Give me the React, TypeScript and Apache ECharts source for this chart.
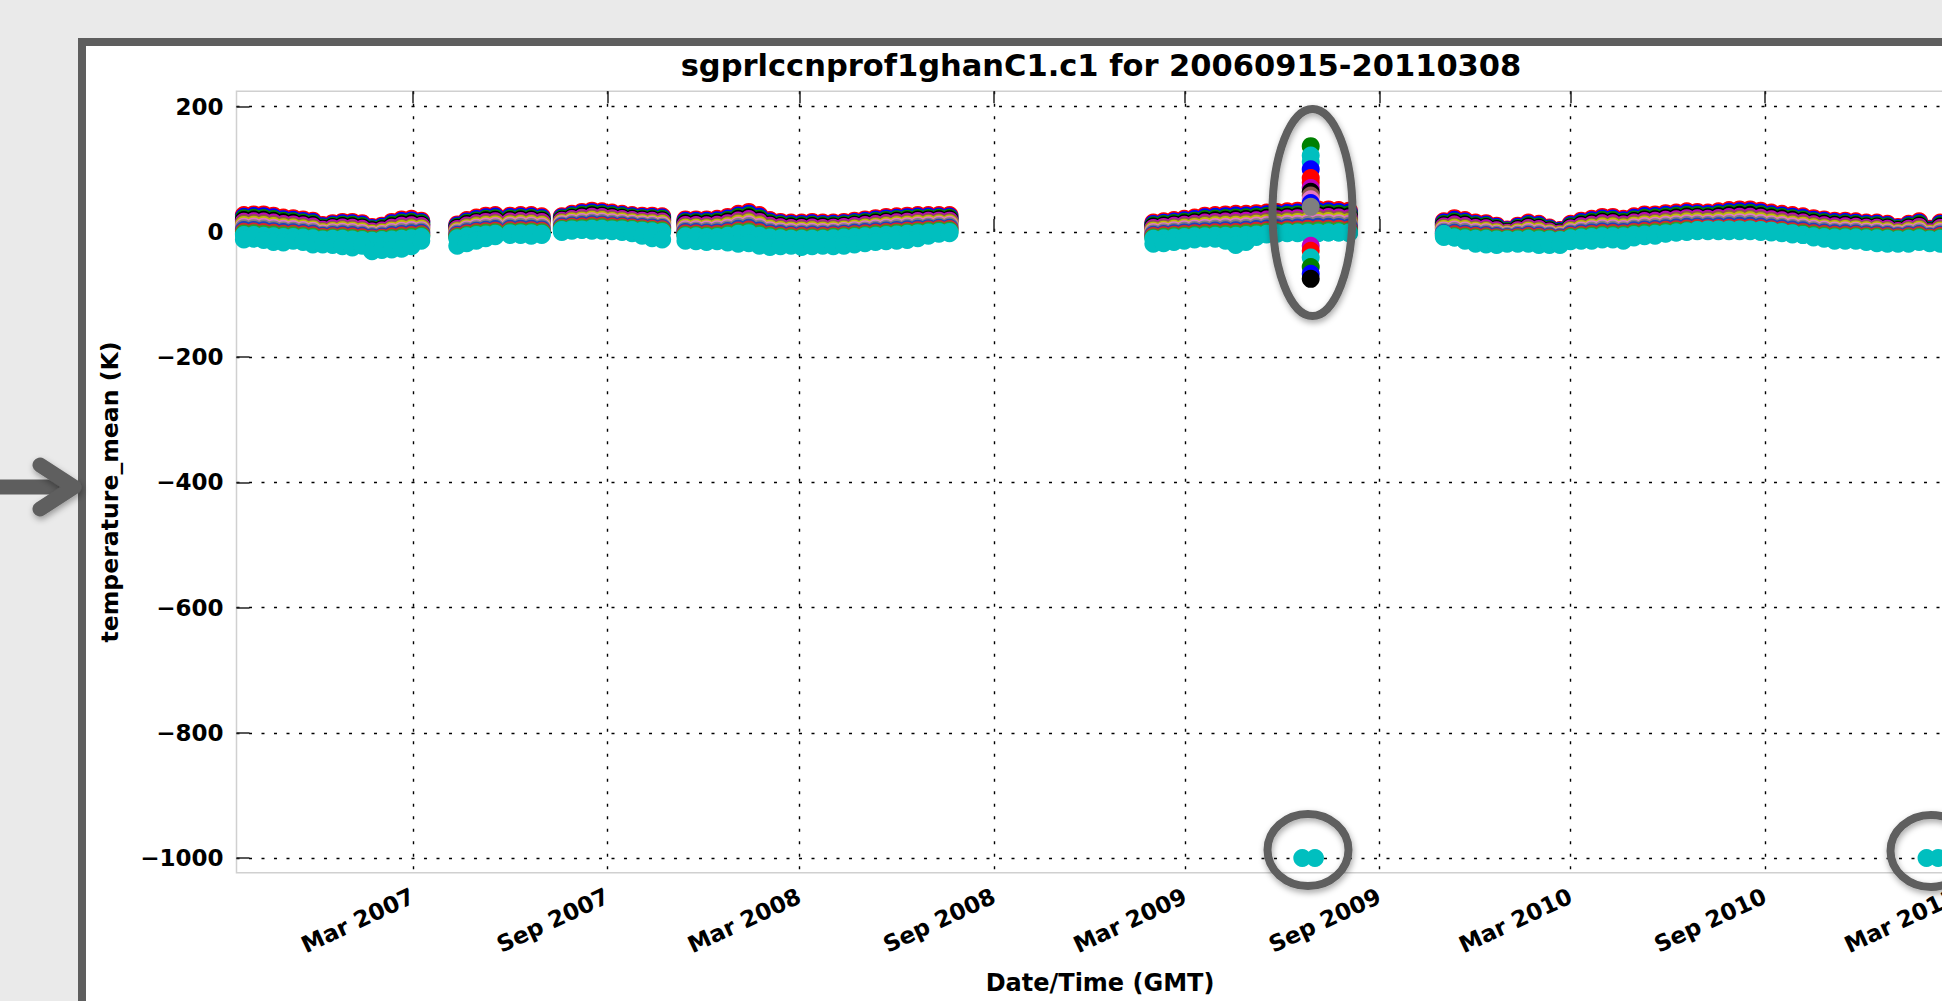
import React, { useEffect, useRef } from 'react';
import * as echarts from 'echarts';

const TITLE = 'sgprlccnprof1ghanC1.c1 for 20060915-20110308';
const X_NAME = 'Date/Time (GMT)';
const Y_NAME = 'temperature_mean (K)';
const X_MIN = '2006-09-15';
const X_MAX = '2011-03-08';
const Y_MIN = -1023.5;
const Y_MAX = 224.6;
const Y_TICKS = [-1000, -800, -600, -400, -200, 0, 200];
const X_TICKS = ['2007-03-01', '2007-09-01', '2008-03-01', '2008-09-01', '2009-03-01', '2009-09-01', '2010-03-01', '2010-09-01', '2011-03-01'];
const MONTHS = ['Jan', 'Feb', 'Mar', 'Apr', 'May', 'Jun', 'Jul', 'Aug', 'Sep', 'Oct', 'Nov', 'Dec'];

// data segments (regularly sampled), start date + step in days
const SEG_START = ['2006-09-22', '2007-04-12', '2007-06-01', '2007-07-20', '2007-11-14', '2009-01-30', '2009-11-01'];
const SEG_STEP = [9.33, 9, 10, 9.5, 10, 9.75, 10];

// highest level of the profile (top of the coloured band)
const BAND_TOP = [
  [27, 28, 28, 26, 23, 22, 20, 18, 11, 14, 16, 16, 14, 8, 10, 16, 20, 21, 18],
  [12, 19, 23, 26, 27],
  [26, 27, 27, 25],
  [25, 29, 32, 34, 33, 31, 29, 27, 26, 26, 25],
  [20, 20, 20, 21, 24, 29, 32, 27, 19, 16, 15, 15, 16, 15, 15, 16, 18, 20, 22, 24, 25, 26, 27, 27, 27, 27],
  [15, 17, 19, 21, 23, 26, 27, 28, 29, 29, 30, 31, 32, 33, 34, 35, 36, 36, 35, 34],
  [17, 22, 19, 15, 14, 10, 4, 10, 15, 13, 7, 3, 13, 18, 21, 24, 24, 21, 25, 28, 28, 30, 31, 33, 32, 31, 33, 35, 36, 36, 34, 31, 29, 27, 25, 22, 20, 18, 18, 17, 15, 15, 13, 8, 13, 17, 5, 15, 23, 23],
];
// cyan level: upper and lower values
const CYAN_HI = [
  [-5, -5, -6, -7, -8, -8, -9, -10, -12, -11, -11, -12, -13, -14, -13, -12, -11, -10, -8],
  [-10, -7, -5, -4, -3],
  [-2, -2, -2, -3],
  [3, 4, 4, 5, 5, 4, 4, 3, 2, 1, 0],
  [-7, -7, -8, -8, -6, -3, -2, -6, -9, -10, -11, -11, -11, -11, -10, -9, -8, -7, -6, -5, -4, -3, -2, -1, 0, 0],
  [-11, -10, -9, -8, -7, -7, -6, -6, -6, -5, -4, -3, -3, -2, -2, -1, -1, -1, -1, -2],
  [-8, -9, -10, -11, -11, -12, -12, -12, -11, -12, -12, -13, -10, -9, -8, -7, -7, -7, -5, -4, -3, -2, -1, 0, 1, 1, 1, 1, 1, 1, 0, -1, -2, -4, -5, -7, -8, -9, -9, -9, -10, -10, -11, -12, -11, -10, -12, -11, -10, -10],
];
const CYAN_LO = [
  [-12, -11, -13, -16, -17, -14, -16, -20, -20, -21, -23, -25, -22, -31, -29, -28, -27, -23, -14],
  [-22, -18, -14, -10, -7],
  [-5, -5, -6, -5],
  [0, 2, 3, 2, 2, 1, 0, -2, -6, -10, -12],
  [-14, -15, -16, -15, -17, -19, -18, -22, -24, -23, -22, -24, -23, -22, -23, -22, -20, -18, -16, -15, -14, -13, -10, -6, -3, -2],
  [-19, -18, -16, -14, -12, -11, -11, -14, -21, -16, -8, -4, -2, -1, -1, -2, -2, -1, -1, -1],
  [-3, -9, -14, -19, -20, -21, -19, -19, -19, -21, -21, -21, -15, -14, -14, -12, -12, -14, -9, -7, -6, -3, -1, 1, 3, 4, 4, 4, 4, 4, 3, 2, 0, -2, -5, -9, -11, -14, -14, -14, -16, -18, -19, -19, -19, -16, -18, -19, -16, -16],
];

const SPIKE_DATE = '2009-06-28';
const SPIKE_VALUES = [137, 122, 112, 100, 86, 79, 70, 64, 58, 52, 46, 40, -22, -30, -41, -56, -67, -75];
const FILL_DATES = ['2009-06-20', '2009-07-02', '2011-02-01', '2011-02-12', '2011-02-22'];
const FILL_VALUES = [-1000, -1000, -1000, -1000, -1000];

// styles
const FONT = 'DejaVu Sans';
const CYAN = '#00bfbf';
const STRIPE_COLORS = ['#ff0000', '#0000ff', '#008000', '#000000', '#bf00bf', '#8c564b', '#bfbf00', '#e377c2', '#7f7f7f', '#1f3fbf', '#d62728', '#2ca02c'];
const SPIKE_COLORS = ['#008000', CYAN, CYAN, '#0000ff', '#ff0000', '#ff0000', '#bf00bf', '#000000', '#8c564b', '#e377c2', '#0000ff', '#7f7f7f', '#bf00bf', '#ff0000', CYAN, '#008000', '#0000ff', '#000000'];
const FRAME = '#5e5e5e';
const MARK = 18;

const DAY = 86400000;
const ts = (s: string) => Date.parse(s + 'T00:00:00Z');
const sampleTime = (s: number, k: number) => ts(SEG_START[s]) + k * SEG_STEP[s] * DAY;

function buildOption() {
  const xTicks = X_TICKS.map(ts);
  const dot = { type: [3, 9.5] as any, color: '#000', width: 1.4 };
  const tickStyle = { color: '#222', width: 1.5 };
  const labelFont = { fontFamily: FONT, fontWeight: 'bold' as const, fontSize: 23, color: '#000' };

  const scatter = (name: string, data: any[], color: string) => ({
    type: 'scatter', name, data, symbol: 'circle', symbolSize: MARK, silent: true,
    itemStyle: { color, opacity: 1 },
  });

  const series: any[] = [];
  const N = STRIPE_COLORS.length;
  for (let j = N; j >= 1; j--) {
    const data: any[] = [];
    BAND_TOP.forEach((tops, s) => tops.forEach((top, k) => {
      const hi = CYAN_HI[s][k];
      data.push([sampleTime(s, k), hi + ((top - hi) * j) / N]);
    }));
    series.push(scatter('level' + j, data, STRIPE_COLORS[(N - j) % N]));
  }
  const hiData: any[] = [];
  const loData: any[] = [];
  CYAN_HI.forEach((arr, s) => arr.forEach((v, k) => hiData.push([sampleTime(s, k), v])));
  CYAN_LO.forEach((arr, s) => arr.forEach((v, k) => loData.push([sampleTime(s, k), v])));
  series.push(scatter('cyanHi', hiData, CYAN));
  series.push(scatter('cyanLo', loData, CYAN));
  series.push({
    ...scatter('spike', [], CYAN),
    data: SPIKE_VALUES.map((v, i) => ({ value: [ts(SPIKE_DATE), v], itemStyle: { color: SPIKE_COLORS[i], opacity: 1 } })),
  });
  series.push(scatter('fill', FILL_DATES.map((d, i) => [ts(d), FILL_VALUES[i]]), CYAN));

  const shadow = { shadowBlur: 6, shadowColor: 'rgba(0,0,0,0.35)', shadowOffsetX: 1, shadowOffsetY: 3 };
  const ellipse = (cx: number, cy: number, rx: number, ry: number) => ({
    type: 'ellipse', z: 100, silent: true,
    shape: { cx, cy, rx, ry },
    style: { fill: 'transparent', stroke: FRAME, lineWidth: 8, ...shadow },
  });

  return {
    animation: false,
    backgroundColor: '#eaeaea',
    title: {
      text: TITLE, left: 1101, top: 50, textAlign: 'center', padding: 0,
      textStyle: { fontFamily: FONT, fontWeight: 'bold', fontSize: 30.5, color: '#000' },
    },
    grid: {
      left: 236.5, right: 0.5, top: 91.3, bottom: 128.3,
      containLabel: false, outerBoundsMode: 'none',
      show: true, borderColor: '#d0d0d0', borderWidth: 1.5, backgroundColor: 'transparent',
    },
    xAxis: [
      {
        type: 'value', min: ts(X_MIN), max: ts(X_MAX), position: 'bottom',
        axisLine: { show: false },
        axisTick: { show: true, inside: true, length: 13, customValues: xTicks, lineStyle: tickStyle },
        axisLabel: {
          customValues: xTicks, rotate: 25, margin: 22, ...labelFont,
          formatter: (v: number) => { const d = new Date(v); return MONTHS[d.getUTCMonth()] + ' ' + d.getUTCFullYear(); },
        },
        splitLine: { show: true, lineStyle: dot },
        name: X_NAME, nameLocation: 'middle', nameGap: 98,
        nameTextStyle: { fontFamily: FONT, fontWeight: 'bold', fontSize: 24, color: '#000' },
      },
      {
        type: 'value', min: ts(X_MIN), max: ts(X_MAX), position: 'top',
        axisLine: { show: false },
        axisTick: { show: true, inside: true, length: 12, customValues: xTicks, lineStyle: tickStyle },
        axisLabel: { show: false },
        splitLine: { show: false },
      },
    ],
    yAxis: {
      type: 'value', min: Y_MIN, max: Y_MAX,
      axisLine: { show: false },
      axisTick: { show: true, inside: true, length: 13, customValues: Y_TICKS, lineStyle: tickStyle },
      axisLabel: {
        customValues: Y_TICKS, margin: 13, ...labelFont,
        formatter: (v: number) => (v < 0 ? '\u2212' + Math.abs(v) : String(v)),
      },
      splitLine: { show: true, lineStyle: dot },
      name: Y_NAME, nameLocation: 'middle', nameRotate: 90, nameGap: 115,
      nameTextStyle: { fontFamily: FONT, fontWeight: 'bold', fontSize: 23.6, color: '#000', padding: [0, 20, 0, 0] },
    },
    graphic: {
      elements: [
        {
          type: 'rect', z: -100, silent: true,
          shape: { x: 82, y: 42, width: 2000, height: 1100 },
          style: { fill: '#ffffff', stroke: FRAME, lineWidth: 8 },
        },
        {
          type: 'polyline', z: 100, silent: true,
          shape: { points: [[-10, 487], [72, 487]] },
          style: { fill: 'none', stroke: FRAME, lineWidth: 15, lineCap: 'round' },
        },
        {
          type: 'polyline', z: 100, silent: true,
          shape: { points: [[40, 465], [74, 487], [40, 509]] },
          style: { fill: 'none', stroke: FRAME, lineWidth: 15, lineCap: 'round', lineJoin: 'round', ...shadow },
        },
        ellipse(1312.5, 212.5, 40, 103.5),
        ellipse(1308, 850, 40.5, 36),
        ellipse(1931, 851, 40.5, 36),
      ],
    },
    series,
  };
}

export default function App() {
  const ref = useRef<HTMLDivElement>(null);
  useEffect(() => {
    if (!ref.current) return;
    const chart = echarts.init(ref.current, null, { renderer: 'svg' });
    chart.setOption(buildOption() as any);
    return () => chart.dispose();
  }, []);
  return (
    <div style={{ position: 'fixed', left: 0, top: 0, width: 1942, height: 1001, overflow: 'hidden' }}>
      <div ref={ref} style={{ width: 1964, height: 1001 }} />
    </div>
  );
}
